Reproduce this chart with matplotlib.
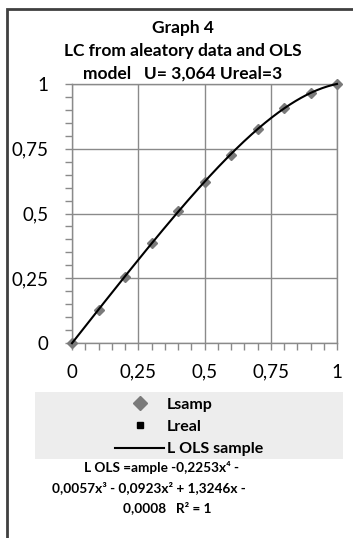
import numpy as np
import matplotlib
matplotlib.use("Agg")
import matplotlib.pyplot as plt
from matplotlib.patches import Rectangle
from matplotlib.ticker import MultipleLocator, FuncFormatter

# data
p = [0.0, 0.1, 0.2, 0.3, 0.4, 0.5, 0.6, 0.7, 0.8, 0.9, 1.0]
l_samp = [0.0, 0.128, 0.256, 0.385, 0.51, 0.62, 0.726, 0.828, 0.906, 0.965, 1.0]
l_real = [0.0, 0.128, 0.256, 0.385, 0.51, 0.62, 0.726, 0.828, 0.906, 0.965, 1.0]
ticks = [0, 0.25, 0.5, 0.75, 1]
title_lines = ["Graph 4", "LC from aleatory data and OLS", "model   U= 3,064 Ureal=3"]
eq_lines = ["L OLS =ample -0,2253x\u2074 -",
            "0,0057x\u00b3 - 0,0923x\u00b2 + 1,3246x -",
            "0,0008   R\u00b2 = 1"]

plt.rcParams['font.family'] = ['Lato', 'DejaVu Sans']

W, H = 353, 538
fig = plt.figure(figsize=(W / 100, H / 100), dpi=100)

def fx(px):
    return px / W

def fy(py):
    return 1 - py / H

# outer chart frame
fig.patches.append(Rectangle((fx(6.5), fy(560)), fx(400), 560 / H - 9 / H,
                             transform=fig.transFigure, fill=False,
                             edgecolor='#404040', linewidth=2))

ax = fig.add_axes([fx(72), fy(343), fx(337 - 72), (343 - 84) / H])
ax.set_xlim(0, 1)
ax.set_ylim(0, 1)

grid_c = '#8a8a8a'
ax.set_xticks(ticks)
ax.set_yticks(ticks)
ax.xaxis.set_minor_locator(MultipleLocator(0.05))
ax.yaxis.set_minor_locator(MultipleLocator(0.05))
fmt = FuncFormatter(lambda v, pos: ('%g' % v).replace('.', ','))
ax.xaxis.set_major_formatter(fmt)
ax.yaxis.set_major_formatter(fmt)
ax.grid(True, which='major', color=grid_c, linewidth=1)
ax.tick_params(which='both', direction='out', length=5, color=grid_c, width=1)
ax.tick_params(axis='x', which='major', pad=10, labelsize=13.5)
ax.tick_params(axis='y', which='major', pad=12, labelsize=13.5)
for s in ax.spines.values():
    s.set_color(grid_c)
    s.set_linewidth(1)

# trendline (4th degree fit of the sample, like the spreadsheet)
coef = np.polyfit(p, l_samp, 4)
xs = np.linspace(0, 1, 200)

h1, = ax.plot(p, l_samp, linestyle='none', marker='D', markersize=4.8,
              color='#7a7a7a', zorder=3, clip_on=False)
h2, = ax.plot(p, l_real, linestyle='none', marker='s', markersize=3.5,
              color='black', zorder=2, clip_on=False)
h3, = ax.plot(xs, np.polyval(coef, xs), color='black', linewidth=1.5,
              zorder=4, clip_on=False)

# title
for i, t in enumerate(title_lines):
    fig.text(fx(183), fy(28 + i * 23), t, ha='center', va='center',
             fontsize=12.5, fontweight='bold')

# legend area
fig.patches.append(Rectangle((fx(35), fy(459)), fx(343 - 35), (459 - 392) / H,
                             transform=fig.transFigure, facecolor='#ededed',
                             edgecolor='none'))
leg = fig.legend([h1, h2, h3], ['Lsamp', 'Lreal', 'L OLS sample'],
                 loc='center', bbox_to_anchor=(fx(189), fy(427)),
                 frameon=False, handlelength=3.1, handletextpad=0.15,
                 labelspacing=0.5, borderpad=0, markerscale=1.4,
                 prop={'size': 11.5, 'weight': 'bold'})

# equation
eq_x = [161, 149, 167]
for i, t in enumerate(eq_lines):
    fig.text(fx(eq_x[i]), fy(468 + i * 20), t, ha='center', va='center',
             fontsize=9.8, fontweight='bold')

fig.savefig('out.png', dpi=100)
